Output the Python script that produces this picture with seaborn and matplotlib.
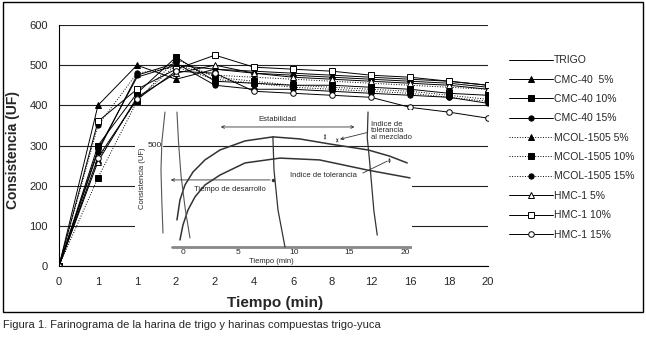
import numpy as np
import pandas as pd
import matplotlib
matplotlib.use('Agg')
import matplotlib.pyplot as plt
import matplotlib.patches as mpatches
import seaborn as sns

# ── Data ─────────────────────────────────────────────────────
tick_labels = ['0', '1', '1', '2', '2', '4', '6', '8', '12', '16', '18', '20']

trigo      = [0, 290, 470, 500, 490, 480, 475, 470, 465, 460, 455, 445]
cmc40_5    = [0, 400, 500, 465, 490, 485, 480, 475, 470, 465, 460, 450]
cmc40_10   = [0, 300, 430, 520, 460, 455, 450, 450, 445, 440, 430, 425]
cmc40_15   = [0, 285, 475, 505, 450, 440, 440, 435, 430, 425, 420, 405]
mcol_5     = [0, 265, 415, 500, 475, 470, 465, 460, 455, 450, 445, 440]
mcol_10    = [0, 220, 410, 515, 470, 460, 450, 445, 440, 435, 425, 415]
mcol_15    = [0, 350, 480, 495, 465, 455, 445, 440, 435, 430, 420, 410]
hmc_5      = [0, 260, 420, 480, 500, 480, 470, 465, 460, 455, 450, 440]
hmc_10     = [0, 360, 440, 490, 525, 495, 490, 485, 475, 470, 460, 450]
hmc_15     = [0, 270, 415, 485, 480, 435, 430, 425, 420, 395, 383, 368]

series_names = ['TRIGO', 'CMC-40  5%', 'CMC-40 10%', 'CMC-40 15%',
                'MCOL-1505 5%', 'MCOL-1505 10%', 'MCOL-1505 15%',
                'HMC-1 5%', 'HMC-1 10%', 'HMC-1 15%']
series_vals = [trigo, cmc40_5, cmc40_10, cmc40_15, mcol_5, mcol_10, mcol_15,
               hmc_5, hmc_10, hmc_15]

# inset schematic (farinogram sketch) — time (min) / consistency (UF)
upper_t = [-0.54, -0.27, 0.18, 0.9, 1.98, 3.33, 5.59, 8.1, 10.5, 13.2, 16.7, 18.6, 20.2]
upper_v = [134, 233, 307, 371, 431, 480, 525, 545, 535, 510, 480, 450, 416]
lower_t = [-0.27, 0.0, 0.45, 1.08, 1.98, 3.33, 5.59, 8.74, 12.3, 16.6, 20.45]
lower_v = [35, 109, 183, 248, 307, 356, 416, 440, 431, 381, 342]
traceA_t = [-1.62, -1.9, -1.98, -1.9, -1.8]
traceA_v = [668, 520, 381, 220, 69]
traceB_t = [-0.54, -0.4, -0.18, 0.2, 0.63]
traceB_v = [668, 520, 356, 190, 45]
peak_t = [8.1, 8.2, 8.56, 9.19]
peak_v = [545, 381, 183, 0]
end_t = [16.67, 16.6, 16.8, 17.2, 17.5]
end_v = [668, 540, 431, 178, 59]
inset_ticks = [0, 5, 10, 15, 20]

# ── Style ────────────────────────────────────────────────────
sns.set_style('white')
plt.rcParams['font.family'] = ['Liberation Sans', 'DejaVu Sans']

W, H = 646, 338
fig = plt.figure(figsize=(W / 100, H / 100), dpi=100)
ax = fig.add_axes([59 / W, (H - 266) / H, 429 / W, 241 / H])

styles = [
    dict(marker='_', ls='-', mfc='black', ms=5),
    dict(marker='^', ls='-', mfc='black', ms=4.5),
    dict(marker='s', ls='-', mfc='black', ms=4),
    dict(marker='o', ls='-', mfc='black', ms=3.8),
    dict(marker='^', ls=':', mfc='black', ms=4.5),
    dict(marker='s', ls=':', mfc='black', ms=4),
    dict(marker='o', ls=':', mfc='black', ms=3.8),
    dict(marker='^', ls='-', mfc='white', ms=4.5),
    dict(marker='s', ls='-', mfc='white', ms=4.5),
    dict(marker='o', ls='-', mfc='white', ms=4),
]

xpos = np.arange(len(tick_labels))
for name, vals, st in zip(series_names, series_vals, styles):
    df = pd.DataFrame({'x': xpos, 'y': vals})
    sns.lineplot(data=df, x='x', y='y', ax=ax, color='black', lw=0.7,
                 linestyle=st['ls'], marker=st['marker'], markersize=st['ms'],
                 markerfacecolor=st['mfc'], markeredgecolor='black',
                 markeredgewidth=0.7, label=name)

ax.set_xlim(0, 11)
ax.set_ylim(0, 600)
ax.set_xticks(xpos)
ax.set_xticklabels(tick_labels)
ax.set_yticks(range(0, 601, 100))
ax.tick_params(axis='x', direction='in', length=3, width=0.7, labelsize=8, pad=8)
ax.tick_params(axis='y', length=0, labelsize=8, pad=8)
ax.yaxis.grid(True, color='#222222', lw=0.8)
ax.set_axisbelow(True)
for s in ['top', 'right']:
    ax.spines[s].set_visible(False)
for s in ['left', 'bottom']:
    ax.spines[s].set_color('black')
    ax.spines[s].set_linewidth(0.8)

ax.set_xlabel('Tiempo (min)', fontsize=11, fontweight='bold')
ax.set_ylabel('Consistencia (UF)', fontsize=10, fontweight='bold')
ax.xaxis.set_label_coords(0.503, -0.125)
ax.yaxis.set_label_coords(-0.09, 0.48)

handles, labels = ax.get_legend_handles_labels()
ax.legend(handles, labels, loc='upper left', frameon=False,
          bbox_to_anchor=(505 / W, 1 - 51 / H), bbox_transform=fig.transFigure,
          fontsize=7.5, handlelength=4.2, handletextpad=0.1, labelspacing=0.9,
          borderaxespad=0)

# ── Inset: farinogram sketch ────────────────────────────────
ins = fig.add_axes([135 / W, (H - 264) / H, 277 / W, 154 / H])
ins.set_xlim(-4.32, 20.63)
ins.set_ylim(-84, 678)
ins.set_facecolor('white')
ins.set_xticks([])
ins.set_yticks([])
for s in ins.spines.values():
    s.set_visible(False)

lc = '#333333'
ins.plot([-1.0, 20.6], [0, 0], color='#888888', lw=2)
ins.plot([-1.8, 20.63], [500, 500], color='#222222', lw=0.8)
ins.plot(upper_t, upper_v, color=lc, lw=1.1)
ins.plot(lower_t, lower_v, color=lc, lw=1.1)
ins.plot(traceA_t, traceA_v, color='#555555', lw=0.8)
ins.plot(traceB_t, traceB_v, color='#555555', lw=0.8)
ins.plot(peak_t, peak_v, color=lc, lw=0.9)
ins.plot(end_t, end_v, color=lc, lw=0.9)

fs = 5.5
for t in inset_ticks:
    ins.text(t, -28, str(t), ha='center', va='center', fontsize=fs + 0.5)
ins.text(8.0, -70, 'Tiempo (min)', ha='center', va='center', fontsize=fs)
ins.text(-1.9, 500, '500', ha='right', va='center', fontsize=fs + 0.5)
ins.text(-3.6, 340, 'Consistencia (UF)', rotation=90, ha='center', va='center', fontsize=fs)

ins.annotate('', xy=(3.15, 594), xytext=(15.7, 594),
             arrowprops=dict(arrowstyle='<->', lw=0.6, color=lc, mutation_scale=5))
ins.text(8.5, 632, 'Estabilidad', ha='center', va='center', fontsize=fs)

ins.annotate('', xy=(-1.35, 332), xytext=(8.1, 332),
             arrowprops=dict(arrowstyle='->', lw=0.6, color=lc, mutation_scale=5))
ins.plot([8.1], [332], marker='o', ms=1.5, color=lc)
ins.text(1.0, 300, 'Tiempo de desarrollo', ha='left', va='top', fontsize=fs)

ins.text(16.9, 575, 'Indice de\ntolerancia\nal mezclado', ha='left', va='center',
         fontsize=fs, linespacing=0.9)
ins.annotate('', xy=(13.9, 530), xytext=(16.85, 570),
             arrowprops=dict(arrowstyle='->', lw=0.6, color=lc, mutation_scale=5))
ins.annotate('', xy=(12.8, 530), xytext=(12.8, 560),
             arrowprops=dict(arrowstyle='<->', lw=0.5, color=lc, mutation_scale=3))
ins.annotate('', xy=(13.9, 510), xytext=(13.9, 545),
             arrowprops=dict(arrowstyle='<->', lw=0.5, color=lc, mutation_scale=3))

ins.annotate('', xy=(18.6, 400), xytext=(18.6, 455),
             arrowprops=dict(arrowstyle='<->', lw=0.5, color=lc, mutation_scale=3))
ins.text(9.6, 356, 'Indice de tolerancia', ha='left', va='center', fontsize=fs)
ins.plot([16.2, 18.4], [366, 425], color=lc, lw=0.6)

# ── Frame and caption ────────────────────────────────────────
fig.patches.append(mpatches.Rectangle((3 / W, (H - 312) / H), 640 / W, 310 / H,
                                      transform=fig.transFigure, fill=False,
                                      edgecolor='black', lw=1.0))
fig.text(3 / W, 13 / H, 'Figura 1. Farinograma de la harina de trigo y harinas compuestas trigo-yuca',
         ha='left', va='center', fontsize=8)

fig.savefig('out.png', dpi=100)
